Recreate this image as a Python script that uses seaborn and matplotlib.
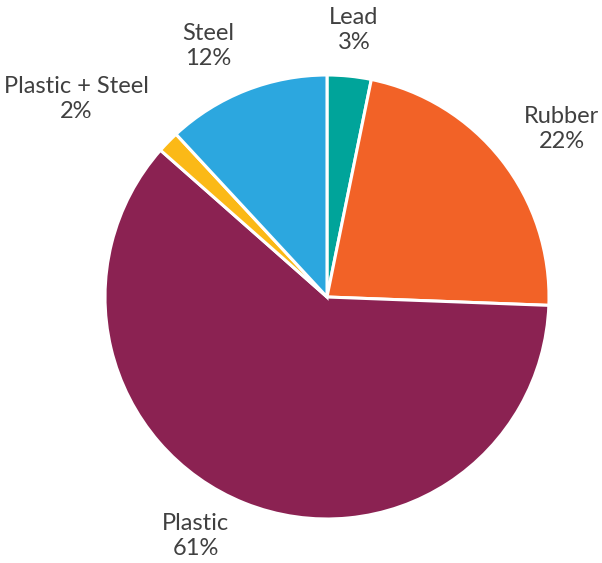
import numpy as np
import seaborn as sns
import matplotlib.pyplot as plt

# -----------------------------------------------------------
# Data (clockwise from 12 o'clock)
# -----------------------------------------------------------
materials = ["Lead", "Rubber", "Plastic", "Plastic + Steel", "Steel"]
shares = [3.2, 22.4, 60.9, 1.6, 11.9]
colors = ["#00A49A", "#F26227", "#8B2252", "#FBB917", "#2CA7DF"]

# label placement tweaks: radius factor, angle nudge (deg, clockwise)
label_radius = [1.21, 1.30, 1.23, 1.44, 1.25]
label_nudge = [0, 2.5, 7, -6, -4]

# -----------------------------------------------------------
# Styling
# -----------------------------------------------------------
sns.set_theme(style="white")
plt.rcParams["font.family"] = ["Lato", "DejaVu Sans"]

fig = plt.figure(figsize=(6.02, 5.63), dpi=100)
ax = fig.add_axes([0, 0, 1, 1])

cx, cy, r = 327, 563 - 297, 222

wedges, _ = ax.pie(
    shares,
    colors=colors,
    startangle=90,
    counterclock=False,
    center=(cx, cy),
    radius=r,
    frame=True,
    wedgeprops=dict(edgecolor="white", linewidth=2.2),
)
ax.set_xlim(0, 602)
ax.set_ylim(0, 563)
ax.set_aspect("equal")
ax.axis("off")

total = sum(shares)
cum = 0
for name, val, rf, nudge in zip(materials, shares, label_radius, label_nudge):
    mid = (cum + val / 2) / total * 360 + nudge  # clockwise from top
    cum += val
    ang = np.deg2rad(mid)
    x = cx + np.sin(ang) * r * rf
    y = cy + np.cos(ang) * r * rf
    ax.text(x, y, f"{name}\n{val / total * 100:.0f}%", ha="center", va="center",
            fontsize=17, color="#404040", linespacing=1.25)

plt.savefig("out.png", dpi=100)
